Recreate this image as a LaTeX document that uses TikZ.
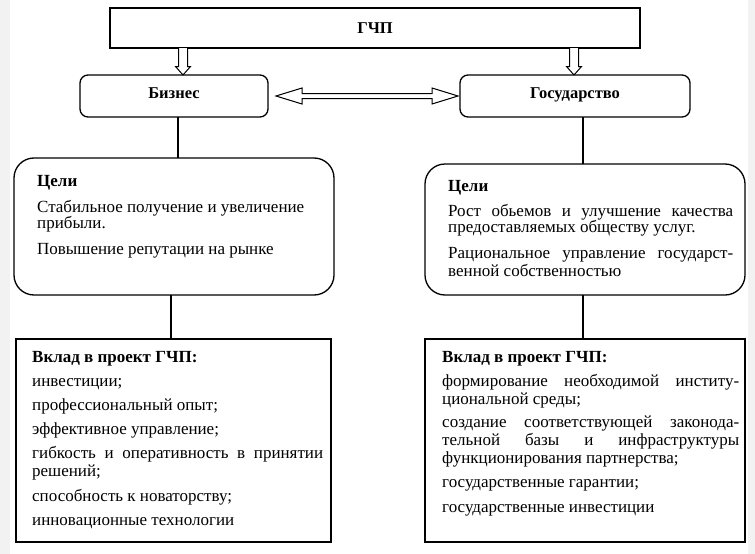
\documentclass[tikz,border=0pt]{standalone}
\usepackage{fontspec}
\setmainfont{Liberation Serif}
\usetikzlibrary{calc}
\newcommand\fsA{\fontsize{17}{16}\selectfont}
\newcommand\fsB{\fontsize{17}{18}\selectfont}
\newcommand\fsT{\fontsize{16.5}{16}\selectfont}
\newcommand\tstrut{\rule{0pt}{12pt}}
\newcommand\hollowdown[2]{%
  \draw[harrow] ($(#1)+(-4.5,0)$) -- ($(#2)+(-4.5,-8.5)$) -- ($(#2)+(-7.5,-8.5)$) -- (#2)
    -- ($(#2)+(7.5,-8.5)$) -- ($(#2)+(4.5,-8.5)$) -- ($(#1)+(4.5,0)$);}
\begin{document}
\begin{tikzpicture}[x=1pt,y=-1pt,
  box/.style={draw, line width=1.3pt, inner sep=0pt, outer sep=0pt, anchor=north west},
  rbox/.style={box, rounded corners=8pt},
  bigbox/.style={box, rounded corners=20pt},
  conn/.style={line width=1.3pt},
  harrow/.style={draw, fill=white, line width=1pt, line join=miter},
  title/.style={font=\fsT\bfseries, inner sep=0pt, anchor=base},
  txt/.style={anchor=north west, inner sep=0pt, align=left}]
\useasboundingbox (0,0) rectangle (755,554);
\fill[white] (0,0) rectangle (755,554);
\fill[black!5] (0,0) rectangle (10,554);
\fill[black!5] (748,0) rectangle (755,554);

% boxes
\node[box, minimum width=530pt, minimum height=40pt] (gchp) at (110,8) {};
\node[title] (gchpt) at ($(gchp.center)+(0,5.5)$) {ГЧП};
\node[rbox, minimum width=188pt, minimum height=42pt] (biz) at (80,75) {};
\node[title] (bizt) at ($(biz.center)+(0,2.5)$) {Бизнес};
\node[rbox, minimum width=230pt, minimum height=42pt] (gos) at (460,75) {};
\node[title] (gost) at ($(gos.center)+(0,2.5)$) {Государство};

\node[bigbox, minimum width=320pt, minimum height=137pt] (goalL) at (14,158) {};
\node[bigbox, minimum width=320pt, minimum height=131pt] (goalR) at (425,164) {};
\node[box, minimum width=315pt, minimum height=203pt] (contL) at (16,339) {};
\node[box, minimum width=320pt, minimum height=203pt] (contR) at (425,339) {};

% texts
\node[txt, font=\fsA] (goalLt) at (37,174) {\tstrut\textbf{Цели}\\[10pt]
Стабильное получение и увеличение\\
прибыли.\\[10pt]
Повышение репутации на рынке};

\node[txt, font=\fsA] (goalRt) at (448,179) {\tstrut\textbf{Цели}\\[9pt]
\makebox[285pt][s]{Рост обьемов и улучшение качества}\\
предоставляемых обществу услуг.\\[10pt]
\makebox[285pt][s]{Рациональное управление государст-}\\[2pt]
венной собственностью};

\node[txt, font=\fsB] (contLt) at (32,350) {\tstrut\textbf{Вклад в проект ГЧП:}\\[6pt]
инвестиции;\\[6pt]
профессиональный опыт;\\[6pt]
эффективное управление;\\[6pt]
\makebox[291pt][s]{гибкость и оперативность в принятии}\\
решений;\\[7pt]
способность к новаторству;\\[6pt]
инновационные технологии};

\node[txt, font=\fsB] (contRt) at (442,350) {\tstrut\textbf{Вклад в проект ГЧП:}\\[6pt]
\makebox[297pt][s]{формирование необходимой институ-}\\
циональной среды;\\[5pt]
\makebox[297pt][s]{создание соответствующей законода-}\\
\makebox[297pt][s]{тельной базы и инфраструктуры}\\
функционирования партнерства;\\[6pt]
государственные гарантии;\\[7pt]
государственные инвестиции};

% connectors
\coordinate (xa) at (183,0);
\coordinate (xb) at (574,0);
\coordinate (xl1) at (178,0);
\coordinate (xl2) at (171,0);
\coordinate (xr) at (583,0);
\coordinate (ga) at (gchp.south -| xa);
\coordinate (ba) at (biz.north -| xa);
\coordinate (gb) at (gchp.south -| xb);
\coordinate (bb) at (gos.north -| xb);
\hollowdown{ga}{ba}
\hollowdown{gb}{bb}

\coordinate (dl) at ($(biz.east)+(8,0)$);
\coordinate (dr) at ($(gos.west)+(-2,0)$);
\draw[harrow] (dl) -- ($(dl)+(26,-8)$) -- ($(dl)+(26,-2.5)$) -- ($(dr)+(-26,-2.5)$)
  -- ($(dr)+(-26,-8)$) -- (dr) -- ($(dr)+(-26,8)$) -- ($(dr)+(-26,2.5)$)
  -- ($(dl)+(26,2.5)$) -- ($(dl)+(26,8)$) -- cycle;

\draw[conn] (biz.south -| xl1) -- (goalL.north -| xl1);
\draw[conn] (goalL.south -| xl2) -- (contL.north -| xl2);
\draw[conn] (gos.south -| xr) -- (goalR.north -| xr);
\draw[conn] (goalR.south -| xr) -- (contR.north -| xr);
\end{tikzpicture}
\end{document}
